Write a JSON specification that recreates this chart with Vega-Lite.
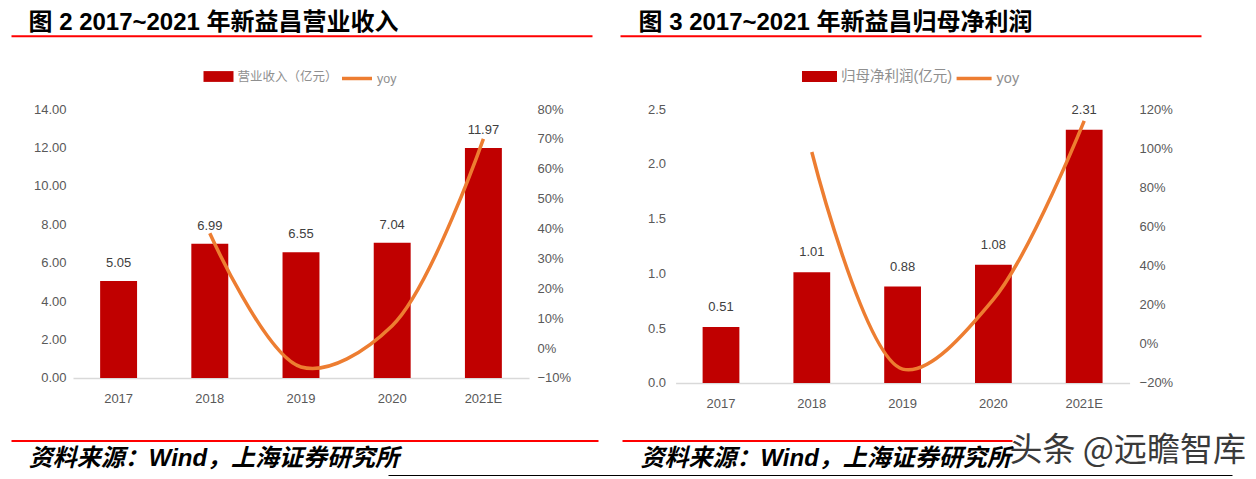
{
  "$schema": "https://vega.github.io/schema/vega-lite/v6.json",
  "background": "white",
  "padding": {"left": 28, "top": 10, "right": 0, "bottom": 0},
  "config": {"view": {"stroke": null}},
  "width": 1056.6,
  "height": 269,
  "datasets": {
    "rev": [
      {"year": "2017", "v": 5.05, "yoy": null},
      {"year": "2018", "v": 6.99, "yoy": 0.384},
      {"year": "2019", "v": 6.55, "yoy": -0.063},
      {"year": "2020", "v": 7.04, "yoy": 0.075},
      {"year": "2021E", "v": 11.97, "yoy": 0.700}
    ],
    "np": [
      {"year": "2017", "v": 0.51, "yoy": null},
      {"year": "2018", "v": 1.01, "yoy": 0.980},
      {"year": "2019", "v": 0.88, "yoy": -0.129},
      {"year": "2020", "v": 1.08, "yoy": 0.227},
      {"year": "2021E", "v": 2.31, "yoy": 1.139}
    ],
    "none": []
  },
  "resolve": {"scale": {"x": "independent", "y": "independent", "fill": "independent", "stroke": "independent"}, "legend": {"fill": "independent", "stroke": "independent"}},
  "layer": [
    {
      "data": {"name": "rev"},
      "mark": {"type": "bar"},
      "encoding": {
        "x": {"field": "year", "type": "nominal", "sort": null,
          "scale": {"range": [0, 456], "paddingInner": 0.595, "paddingOuter": 0.2975},
          "axis": {"orient": "bottom", "title": null, "labelAngle": 0, "domainColor": "#D9D9D9", "domainWidth": 1.5, "ticks": false, "tickSize": 0, "labelPadding": 15, "labelFont": "Liberation Sans, sans-serif", "labelFontSize": 13, "labelColor": "#595959", "grid": false}},
        "y": {"field": "v", "type": "quantitative", "scale": {"domain": [0, 14], "nice": false},
          "axis": {"orient": "left", "title": null, "values": [0, 2, 4, 6, 8, 10, 12, 14], "format": ".2f", "ticks": false, "tickSize": 0, "domain": false, "grid": false, "labelPadding": 7, "labelFont": "Liberation Sans, sans-serif", "labelFontSize": 13, "labelColor": "#595959"}},
        "fill": {"datum": "营业收入（亿元）", "type": "nominal",
          "scale": {"domain": ["营业收入（亿元）"], "range": ["#C00000"]},
          "legend": {"orient": "none", "legendX": 130.5, "legendY": -47.5, "direction": "horizontal", "title": null, "padding": 0, "symbolType": "M-1,-0.36H1V0.36H-1Z", "symbolSize": 900, "symbolStrokeWidth": 0, "labelOffset": 4, "labelFont": "Liberation Sans, Noto Sans CJK SC, sans-serif", "labelFontSize": 12.5, "labelColor": "#8f8f8f"}}
      }
    },
    {
      "data": {"name": "rev"},
      "mark": {"type": "text", "baseline": "middle", "dy": -18, "font": "Liberation Sans, sans-serif", "fontSize": 13, "color": "#404040"},
      "encoding": {
        "x": {"field": "year", "type": "nominal", "sort": null, "scale": {"range": [0, 456], "paddingInner": 0.595, "paddingOuter": 0.2975}, "axis": null},
        "y": {"field": "v", "type": "quantitative", "scale": {"domain": [0, 14], "nice": false}, "axis": null},
        "text": {"field": "v", "type": "quantitative", "format": ".2f"}
      }
    },
    {
      "data": {"name": "rev"},
      "mark": {"type": "line", "interpolate": "catmull-rom", "strokeWidth": 3.5},
      "encoding": {
        "x": {"field": "year", "type": "nominal", "sort": null, "scale": {"range": [0, 456], "paddingInner": 0.595, "paddingOuter": 0.2975}, "axis": null},
        "y": {"field": "yoy", "type": "quantitative", "scale": {"domain": [-0.1, 0.8], "nice": false, "zero": false},
          "axis": {"orient": "right", "offset": -600.6, "title": null, "values": [-0.1, 0, 0.1, 0.2, 0.3, 0.4, 0.5, 0.6, 0.7, 0.8], "format": ".0%", "ticks": false, "tickSize": 0, "domain": false, "grid": false, "labelPadding": 8, "labelFont": "Liberation Sans, sans-serif", "labelFontSize": 13, "labelColor": "#595959"}},
        "stroke": {"datum": "yoy", "type": "nominal",
          "scale": {"domain": ["yoy"], "range": ["#ED7D31"]},
          "legend": {"orient": "none", "legendX": 267, "legendY": -47.5, "direction": "horizontal", "title": null, "padding": 0, "symbolType": "stroke", "symbolSize": 900, "symbolStrokeWidth": 3.5, "labelOffset": 3, "labelFont": "Liberation Sans, Noto Sans CJK SC, sans-serif", "labelFontSize": 12.5, "labelColor": "#8f8f8f"}}
      }
    },
    {
      "data": {"name": "none"},
      "mark": {"type": "point"},
      "encoding": {
        "x": {"datum": 0, "type": "quantitative", "scale": {"domain": [0, 1], "range": [-62, 519]},
          "axis": {"orient": "top", "offset": 73.2, "domain": true, "domainColor": "#FF0000", "domainWidth": 2, "ticks": false, "labels": false, "grid": false,
            "title": "图 2 2017~2021 年新益昌营业收入", "titleX": -45, "titleY": -6, "titleAlign": "left", "titleBaseline": "alphabetic", "titleAngle": 0, "titlePadding": 0,
            "titleFont": "Liberation Sans, Noto Sans CJK SC, sans-serif", "titleFontSize": 24, "titleFontWeight": "bold", "titleColor": "#000000"}}
      }
    },
    {
      "data": {"name": "none"},
      "mark": {"type": "point"},
      "encoding": {
        "x": {"datum": 0, "type": "quantitative", "scale": {"domain": [0, 1], "range": [-62, 525]},
          "axis": {"orient": "bottom", "offset": 62.5, "domain": true, "domainColor": "#FF0000", "domainWidth": 2, "ticks": false, "labels": false, "grid": false,
            "title": "资料来源：Wind，上海证券研究所", "titleX": -44.7, "titleY": 25, "titleAlign": "left", "titleBaseline": "alphabetic", "titleAngle": 0, "titlePadding": 0,
            "titleFont": "Liberation Sans, Noto Sans CJK SC, sans-serif", "titleFontSize": 24, "titleFontWeight": "bold", "titleFontStyle": "italic", "titleColor": "#000000"}}
      }
    },
    {
      "data": {"name": "np"},
      "mark": {"type": "bar"},
      "encoding": {
        "x": {"field": "year", "type": "nominal", "sort": null,
          "scale": {"range": [602.6, 1056.6], "paddingInner": 0.595, "paddingOuter": 0.2975},
          "axis": {"orient": "bottom", "offset": 5, "title": null, "labelAngle": 0, "domainColor": "#D9D9D9", "domainWidth": 1.5, "ticks": false, "tickSize": 0, "labelPadding": 15, "labelFont": "Liberation Sans, sans-serif", "labelFontSize": 13, "labelColor": "#595959", "grid": false}},
        "y": {"field": "v", "type": "quantitative", "scale": {"domain": [0, 2.5], "nice": false, "range": [274, 0]},
          "axis": {"orient": "left", "offset": -602.6, "title": null, "values": [0, 0.5, 1, 1.5, 2, 2.5], "format": ".1f", "ticks": false, "tickSize": 0, "domain": false, "grid": false, "labelPadding": 10, "labelFont": "Liberation Sans, sans-serif", "labelFontSize": 13, "labelColor": "#595959"}},
        "fill": {"datum": "归母净利润(亿元)", "type": "nominal",
          "scale": {"domain": ["归母净利润(亿元)"], "range": ["#C00000"]},
          "legend": {"orient": "none", "legendX": 729, "legendY": -50, "direction": "horizontal", "title": null, "padding": 0, "symbolType": "M-1,-0.31H1V0.31H-1Z", "symbolSize": 1225, "symbolStrokeWidth": 0, "labelOffset": 4, "labelFont": "Liberation Sans, Noto Sans CJK SC, sans-serif", "labelFontSize": 14.5, "labelColor": "#8f8f8f"}}
      }
    },
    {
      "data": {"name": "np"},
      "mark": {"type": "text", "baseline": "middle", "dy": -20, "font": "Liberation Sans, sans-serif", "fontSize": 13, "color": "#404040"},
      "encoding": {
        "x": {"field": "year", "type": "nominal", "sort": null, "scale": {"range": [602.6, 1056.6], "paddingInner": 0.595, "paddingOuter": 0.2975}, "axis": null},
        "y": {"field": "v", "type": "quantitative", "scale": {"domain": [0, 2.5], "nice": false, "range": [274, 0]}, "axis": null},
        "text": {"field": "v", "type": "quantitative", "format": ".2f"}
      }
    },
    {
      "data": {"name": "np"},
      "mark": {"type": "line", "interpolate": "catmull-rom", "strokeWidth": 3.5},
      "encoding": {
        "x": {"field": "year", "type": "nominal", "sort": null, "scale": {"range": [602.6, 1056.6], "paddingInner": 0.595, "paddingOuter": 0.2975}, "axis": null},
        "y": {"field": "yoy", "type": "quantitative", "scale": {"domain": [-0.2, 1.2], "nice": false, "zero": false, "range": [274, 0]},
          "axis": {"orient": "right", "title": null, "values": [-0.2, 0, 0.2, 0.4, 0.6, 0.8, 1.0, 1.2], "format": ".0%", "ticks": false, "tickSize": 0, "domain": false, "grid": false, "labelPadding": 9.5, "labelFont": "Liberation Sans, sans-serif", "labelFontSize": 13, "labelColor": "#595959"}},
        "stroke": {"datum": "yoy", "type": "nominal",
          "scale": {"domain": ["yoy"], "range": ["#ED7D31"]},
          "legend": {"orient": "none", "legendX": 881.6, "legendY": -50, "direction": "horizontal", "title": null, "padding": 0, "symbolType": "stroke", "symbolSize": 1225, "symbolStrokeWidth": 3.5, "labelOffset": 3, "labelFont": "Liberation Sans, Noto Sans CJK SC, sans-serif", "labelFontSize": 14.5, "labelColor": "#8f8f8f"}}
      }
    },
    {
      "data": {"name": "none"},
      "mark": {"type": "point"},
      "encoding": {
        "x": {"datum": 0, "type": "quantitative", "scale": {"domain": [0, 1], "range": [547, 1128]},
          "axis": {"orient": "top", "offset": 73.2, "domain": true, "domainColor": "#FF0000", "domainWidth": 2, "ticks": false, "labels": false, "grid": false,
            "title": "图 3 2017~2021 年新益昌归母净利润", "titleX": 565, "titleY": -6, "titleAlign": "left", "titleBaseline": "alphabetic", "titleAngle": 0, "titlePadding": 0,
            "titleFont": "Liberation Sans, Noto Sans CJK SC, sans-serif", "titleFontSize": 24, "titleFontWeight": "bold", "titleColor": "#000000"}}
      }
    },
    {
      "data": {"name": "none"},
      "mark": {"type": "point"},
      "encoding": {
        "x": {"datum": 0, "type": "quantitative", "scale": {"domain": [0, 1], "range": [549, 939]},
          "axis": {"orient": "bottom", "offset": 62.5, "domain": true, "domainColor": "#FF0000", "domainWidth": 2, "ticks": false, "labels": false, "grid": false,
            "title": "资料来源：Wind，上海证券研究所", "titleX": 567, "titleY": 25, "titleAlign": "left", "titleBaseline": "alphabetic", "titleAngle": 0, "titlePadding": 0,
            "titleFont": "Liberation Sans, Noto Sans CJK SC, sans-serif", "titleFontSize": 24, "titleFontWeight": "bold", "titleFontStyle": "italic", "titleColor": "#000000"}}
      }
    },
    {
      "data": {"name": "none"},
      "mark": {"type": "point"},
      "encoding": {
        "x": {"datum": 0, "type": "quantitative", "scale": {"domain": [0, 1], "range": [315, 1159]},
          "axis": {"orient": "bottom", "offset": 98, "domain": true, "domainColor": "#000000", "domainWidth": 3, "ticks": false, "labels": false, "grid": false,
            "title": "头条 @远瞻智库", "titleX": 936, "titleY": -15, "titleAlign": "left", "titleBaseline": "alphabetic", "titleAngle": 0, "titlePadding": 0,
            "titleFont": "Noto Sans CJK SC, sans-serif", "titleFontSize": 33, "titleFontWeight": "normal", "titleColor": "#3a3a3a"}}
      }
    }
  ]
}
